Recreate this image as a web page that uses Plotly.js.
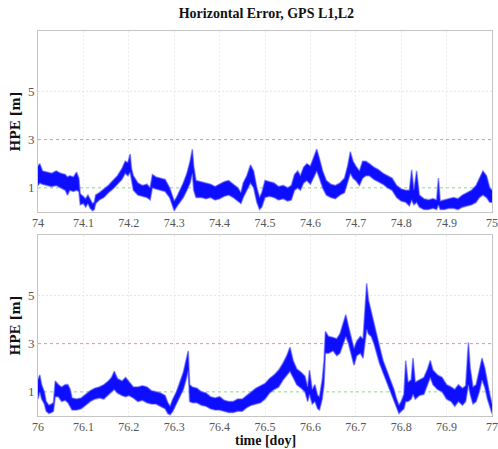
<!DOCTYPE html>
<html>
<head>
<meta charset="utf-8">
<script src="https://cdn.plot.ly/plotly-3.0.1.min.js"></script>
<style>html,body{margin:0;padding:0;background:#fff;}#chart{width:498px;height:449px;}</style>
</head>
<body>
<div id="chart"></div>
<script>
// Top panel (day 74): time, lower and upper edge of the noisy HPE band [m]
const tTop = [74.000,74.004,74.010,74.020,74.030,74.040,74.050,74.060,74.065,74.070,74.078,74.085,74.090,74.093,74.100,74.105,74.110,74.115,74.120,74.124,74.127,74.135,74.145,74.155,74.165,74.175,74.185,74.192,74.198,74.203,74.206,74.210,74.220,74.230,74.240,74.247,74.252,74.260,74.270,74.280,74.290,74.295,74.300,74.305,74.312,74.320,74.328,74.335,74.340,74.343,74.348,74.360,74.370,74.380,74.390,74.400,74.410,74.420,74.430,74.440,74.447,74.452,74.460,74.468,74.475,74.482,74.488,74.493,74.500,74.510,74.520,74.530,74.540,74.550,74.558,74.565,74.572,74.578,74.585,74.592,74.600,74.610,74.614,74.620,74.627,74.635,74.645,74.655,74.665,74.675,74.682,74.688,74.694,74.700,74.708,74.715,74.722,74.730,74.740,74.750,74.760,74.770,74.780,74.790,74.800,74.810,74.818,74.823,74.828,74.834,74.840,74.850,74.860,74.870,74.878,74.882,74.886,74.895,74.905,74.915,74.925,74.935,74.945,74.955,74.965,74.972,74.980,74.988,74.995,75.000];
const loTop = [1.1,1.2,1.15,1.1,1.05,1.1,1.0,0.9,0.7,0.9,0.85,0.9,0.85,0.3,0.35,0.2,0.35,0.15,0.05,0.1,0.35,0.5,0.6,0.8,0.95,1.15,1.35,1.6,1.5,1.65,1.3,0.9,0.7,0.65,0.6,0.5,1.0,0.95,0.9,0.85,0.6,0.3,0.05,0.2,0.4,0.6,0.9,1.2,1.6,0.9,0.6,0.6,0.55,0.6,0.5,0.55,0.65,0.7,0.6,0.45,0.35,0.6,0.9,1.2,1.0,0.4,0.1,0.2,0.6,0.65,0.6,0.5,0.55,0.45,0.5,0.9,1.0,0.9,1.2,1.3,1.15,1.5,1.7,1.4,1.0,0.7,0.6,0.55,0.7,0.8,1.2,1.6,1.4,1.3,1.1,1.4,1.5,1.5,1.35,1.25,1.15,1.0,0.9,0.6,0.45,0.4,0.25,0.5,0.3,0.4,0.2,0.1,0.1,0.15,0.1,0.3,0.1,0.1,0.15,0.15,0.1,0.2,0.25,0.3,0.4,0.6,0.7,0.6,0.4,0.4];
const hiTop = [1.9,2.0,1.7,1.65,1.6,1.7,1.6,1.55,1.45,1.5,1.45,1.65,1.4,0.75,0.65,0.55,0.7,0.5,0.35,0.4,0.7,0.8,0.95,1.1,1.3,1.5,1.8,2.1,2.05,2.4,1.8,1.5,1.2,1.1,1.15,1.0,1.55,1.45,1.4,1.35,1.0,0.7,0.45,0.6,0.85,1.2,1.6,2.1,2.6,1.9,1.3,1.25,1.2,1.15,1.05,1.15,1.25,1.3,1.15,1.0,0.8,1.2,1.5,1.95,1.7,1.0,0.6,0.8,1.3,1.25,1.2,1.05,1.1,1.0,1.1,1.55,1.7,1.5,1.85,2.0,1.9,2.4,2.6,2.2,1.7,1.3,1.15,1.1,1.2,1.4,1.9,2.5,2.1,1.9,1.7,2.1,2.1,2.0,1.85,1.75,1.6,1.5,1.4,1.1,0.95,0.9,0.9,1.75,0.9,1.7,0.7,0.55,0.5,0.55,0.5,1.4,0.45,0.5,0.55,0.6,0.55,0.7,0.8,0.9,1.1,1.4,1.7,1.5,1.0,0.9];

// Bottom panel (day 76)
const tBot = [76.000,76.004,76.008,76.014,76.018,76.024,76.030,76.034,76.038,76.045,76.052,76.060,76.066,76.071,76.075,76.085,76.095,76.105,76.115,76.125,76.135,76.145,76.155,76.162,76.168,76.175,76.185,76.193,76.200,76.210,76.220,76.230,76.240,76.250,76.260,76.270,76.280,76.286,76.291,76.297,76.305,76.313,76.320,76.326,76.331,76.334,76.340,76.350,76.360,76.370,76.380,76.390,76.400,76.410,76.420,76.430,76.440,76.450,76.460,76.470,76.480,76.490,76.500,76.510,76.520,76.530,76.540,76.548,76.555,76.562,76.570,76.580,76.588,76.594,76.598,76.604,76.610,76.616,76.620,76.626,76.630,76.633,76.640,76.650,76.658,76.665,76.672,76.678,76.684,76.690,76.696,76.702,76.710,76.716,76.720,76.724,76.728,76.734,76.740,76.746,76.752,76.760,76.768,76.776,76.784,76.790,76.795,76.800,76.806,76.810,76.815,76.822,76.826,76.831,76.840,76.850,76.858,76.864,76.870,76.880,76.890,76.900,76.910,76.918,76.926,76.935,76.942,76.948,76.952,76.958,76.965,76.972,76.978,76.984,76.990,76.995,77.000];
const loBot = [0.7,1.0,0.7,0.5,0.2,0.1,0.15,0.2,0.8,0.8,0.6,0.65,0.55,0.4,0.25,0.25,0.3,0.45,0.6,0.7,0.75,0.7,0.9,1.0,1.1,0.95,0.85,0.8,0.85,0.75,0.6,0.65,0.55,0.5,0.5,0.4,0.3,0.1,0.05,0.2,0.5,0.8,1.1,1.5,1.9,0.6,0.55,0.55,0.45,0.4,0.3,0.25,0.25,0.2,0.15,0.15,0.2,0.2,0.35,0.45,0.5,0.55,0.7,0.95,1.1,1.2,1.5,1.7,1.85,1.6,1.3,1.15,1.0,0.6,0.9,0.5,0.6,0.3,0.25,0.7,1.3,2.6,2.6,2.7,2.5,2.6,3.0,3.3,3.0,2.5,2.1,2.5,2.6,2.4,2.9,3.6,3.4,3.3,3.0,2.6,2.2,1.8,1.4,1.0,0.6,0.3,0.1,0.2,0.3,0.6,0.6,0.7,0.9,0.7,0.85,0.9,1.3,1.6,1.3,1.1,1.0,0.7,0.6,0.4,0.6,0.45,0.6,1.3,0.9,0.5,0.6,1.0,1.5,1.2,0.7,0.4,0.1];
const hiBot = [1.5,1.7,1.3,1.0,0.6,0.45,0.5,0.55,1.45,1.3,1.2,1.3,1.3,1.1,0.75,0.7,0.75,0.9,1.05,1.15,1.2,1.3,1.45,1.6,1.85,1.55,1.45,1.6,1.45,1.2,1.2,1.25,1.2,1.05,1.0,0.95,0.85,0.55,0.4,0.7,1.0,1.4,1.8,2.3,2.7,1.3,1.2,1.15,1.0,0.95,0.8,0.75,0.8,0.65,0.6,0.6,0.7,0.7,0.85,1.0,1.15,1.25,1.35,1.55,1.7,1.9,2.2,2.5,2.85,2.3,1.95,1.8,1.65,1.2,1.9,1.1,1.3,0.85,0.8,1.5,2.3,3.5,3.3,3.25,3.2,3.4,3.8,4.2,3.7,3.2,2.8,3.1,3.3,3.2,4.2,5.5,4.8,4.3,3.9,3.4,2.9,2.3,1.9,1.5,1.1,0.7,0.45,0.6,0.9,2.3,1.4,1.5,2.4,1.4,1.5,1.6,1.95,2.3,1.9,1.7,1.6,1.3,1.2,1.1,1.3,1.15,1.25,3.05,2.0,1.2,1.3,1.9,2.4,2.0,1.3,0.9,0.5];

const yTickVals = [1, 3, 5];
const redLevel = 3;   // red dashed reference
const greenLevel = 1; // green dotted reference

const serif = 'Liberation Serif, DejaVu Serif, serif';
const serifWide = 'DejaVu Serif, Liberation Serif, serif';

function band(t, lo, hi, xa, ya) {
  return [
    {x: t, y: lo, xaxis: xa, yaxis: ya, mode: 'lines', line: {color: 'rgba(70,70,255,0.55)', width: 1.6}, hoverinfo: 'skip', showlegend: false},
    {x: t, y: hi, xaxis: xa, yaxis: ya, mode: 'lines', fill: 'tonexty', fillcolor: 'rgba(0,0,255,0.95)', line: {color: 'rgba(70,70,255,0.55)', width: 1.6}, hoverinfo: 'skip', showlegend: false}
  ];
}
function hLine(t, level, xa, ya, color, dash) {
  return {x: [t[0], t[t.length - 1]], y: [level, level], xaxis: xa, yaxis: ya, mode: 'lines', line: {color: color, width: 1, dash: dash}, hoverinfo: 'skip', showlegend: false};
}
function gridLines(t, xa, ya) {
  return yTickVals.filter(v => v !== redLevel && v !== greenLevel).map(v => hLine(t, v, xa, ya, '#e4e4e4', '2px,2px'));
}

const data = [
  ...gridLines(tTop, 'x', 'y'),
  hLine(tTop, redLevel, 'x', 'y', '#ff8a8a', '3px,3px'),
  hLine(tTop, greenLevel, 'x', 'y', '#86dc86', '3px,3px'),
  ...band(tTop, loTop, hiTop, 'x', 'y'),
  ...gridLines(tBot, 'x2', 'y2'),
  hLine(tBot, redLevel, 'x2', 'y2', '#ff8a8a', '3px,3px'),
  hLine(tBot, greenLevel, 'x2', 'y2', '#86dc86', '3px,3px'),
  ...band(tBot, loBot, hiBot, 'x2', 'y2')
];

function xAxis(start, anchor) {
  const vals = [], txt = [];
  for (let i = 0; i <= 10; i++) { const v = +(start + i / 10).toFixed(1); vals.push(v); txt.push(String(v)); }
  return {
    anchor: anchor, range: [start, start + 1], tickvals: vals, ticktext: txt,
    showgrid: true, gridcolor: '#ececec', griddash: '2px,2px', gridwidth: 1,
    showline: true, linecolor: '#c4c4c4', linewidth: 1, mirror: true,
    ticks: '', zeroline: false, ticklabelstandoff: 0, tickfont: {family: serif, size: 12, color: '#555'}
  };
}
function yAxis(anchor, dom) {
  return {
    anchor: anchor, domain: dom, range: [0, 7.5], tickvals: yTickVals,
    showgrid: false,
    showline: true, linecolor: '#c4c4c4', linewidth: 1, mirror: true,
    ticks: '', zeroline: false, tickfont: {family: serif, size: 13, color: '#555'},
    title: {text: '<b>HPE [m]</b>', font: {family: serifWide, size: 12.5, color: '#111'}, standoff: 4}
  };
}

const layout = {
  width: 498, height: 449,
  margin: {l: 38, r: 6, t: 31, b: 33},
  paper_bgcolor: '#fff', plot_bgcolor: '#fff',
  title: {text: '<b>Horizontal Error, GPS L1,L2</b>', font: {family: serif, size: 14, color: '#111'}, x: 0.535, xanchor: 'center', y: 0.982, yanchor: 'top'},
  xaxis: xAxis(74, 'y'),
  yaxis: yAxis('x', [0.53, 1]),
  xaxis2: xAxis(76, 'y2'),
  yaxis2: yAxis('x2', [0, 0.47]),
  annotations: [{text: '<b>time [doy]</b>', xref: 'paper', yref: 'paper', x: 0.5, y: -0.086, xanchor: 'center', yanchor: 'bottom', showarrow: false, borderpad: 0, font: {family: serif, size: 14, color: '#111'}}],
  showlegend: false
};

Plotly.newPlot('chart', data, layout, {displayModeBar: false, staticPlot: true});
</script>
</body>
</html>
